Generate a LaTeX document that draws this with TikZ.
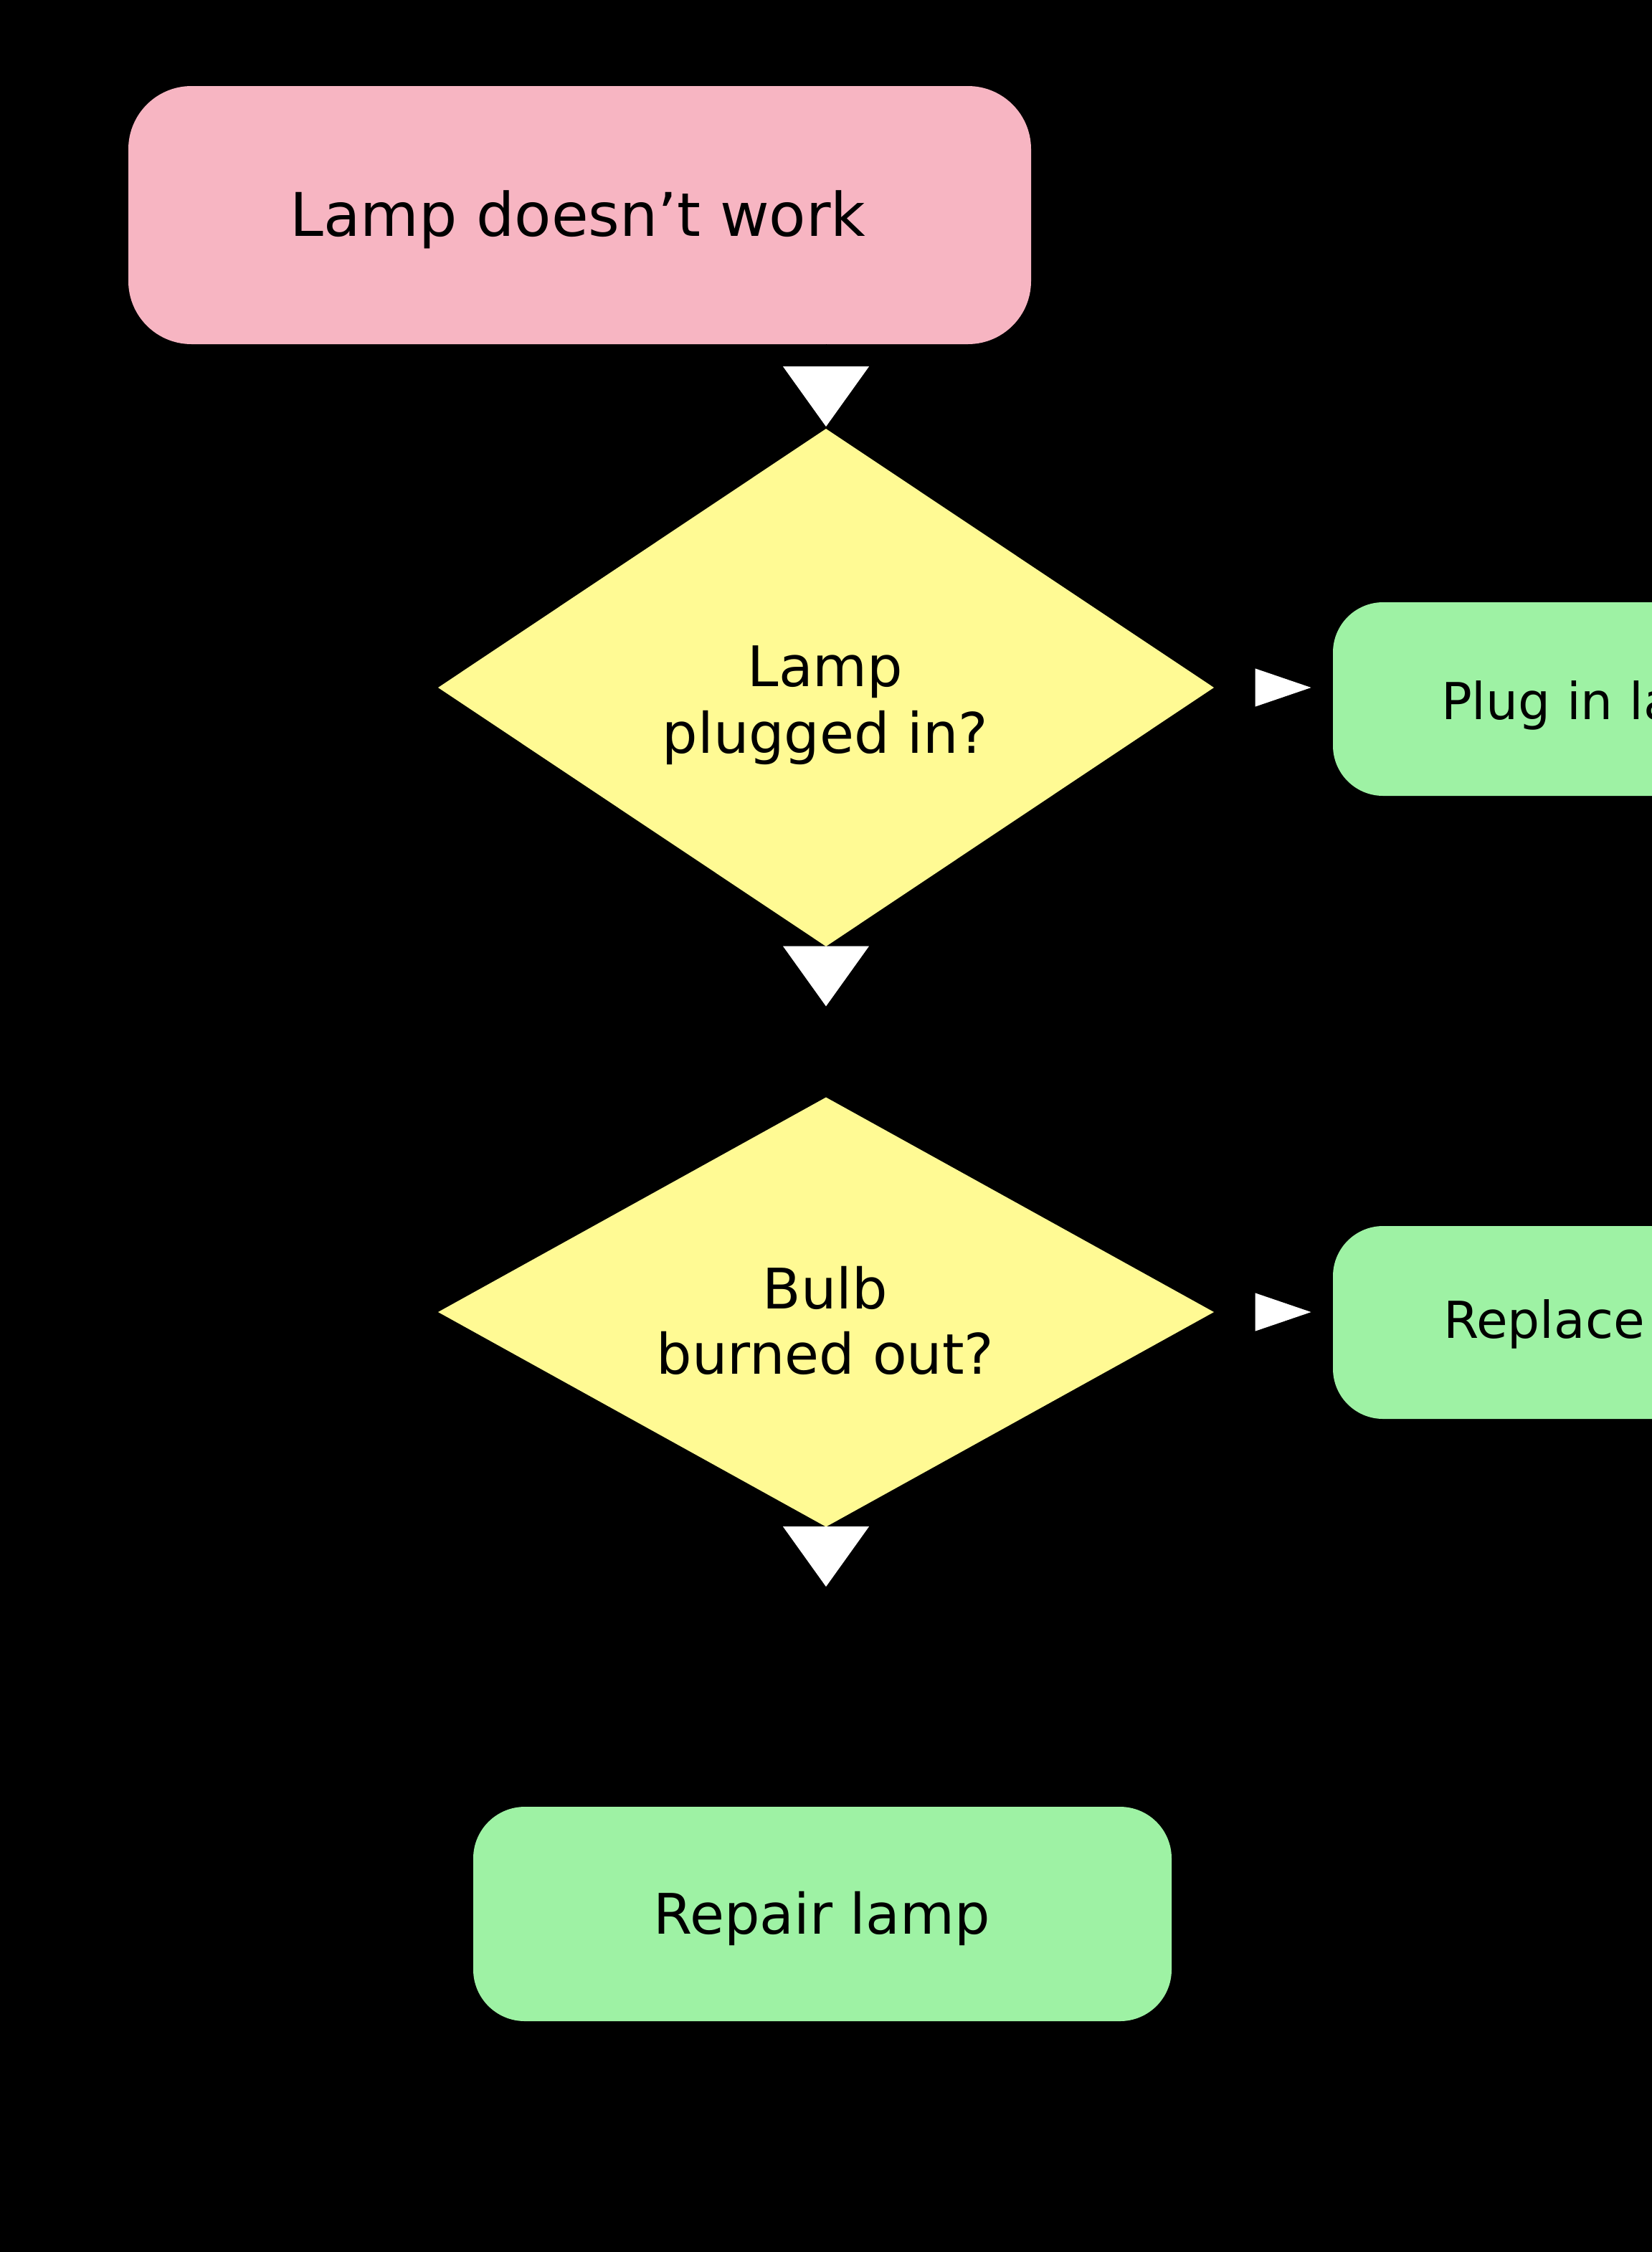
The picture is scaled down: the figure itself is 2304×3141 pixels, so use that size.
\documentclass[tikz,border=0pt]{standalone}
\usepackage{fontspec}
\setmainfont{DejaVu Sans}
\usetikzlibrary{shapes.geometric,arrows.meta}
\definecolor{pinkfill}{RGB}{247,181,194}
\definecolor{yellowfill}{RGB}{255,250,148}
\definecolor{greenfill}{RGB}{158,242,164}
\tikzset{
  box/.style={rectangle, inner sep=0pt, outer sep=0pt},
  decision/.style={diamond, fill=yellowfill, inner sep=0pt, outer sep=0pt},
  txt/.style={inner sep=0pt, outer sep=0pt, text=black, anchor=base},
  dtip/.style={draw=black, line width=1pt, -{Triangle[length=84pt,width=120pt,color=white]}},
  rtip/.style={draw=black, line width=1pt, -{Triangle[length=78pt,width=53pt,color=white]}},
}
\begin{document}
\begin{tikzpicture}[x=1pt,y=-1pt]
\useasboundingbox (0,0) rectangle (2304,3141);
\clip (0,0) rectangle (2304,3141);
\fill[black] (0,0) rectangle (2304,3141);

% shapes
\node[box, fill=pinkfill, rounded corners=88pt, minimum width=1259pt, minimum height=360pt] (start) at (808.5,300) {};
\node[decision, minimum width=1082pt, minimum height=722pt] (d1) at (1152,959) {};
\node[decision, minimum width=1082pt, minimum height=599pt] (d2) at (1152,1830) {};
\node[box, fill=greenfill, rounded corners=70pt, minimum width=760pt, minimum height=270pt] (plug) at (2239,975) {};
\node[box, fill=greenfill, rounded corners=70pt, minimum width=760pt, minimum height=269pt] (bulb) at (2239,1844.5) {};
\node[box, fill=greenfill, rounded corners=72pt, minimum width=974pt, minimum height=299pt] (repair) at (1147,2669.5) {};

% texts
\node[txt, font=\fontsize{84}{100}\selectfont] (tstart) at (806,329) {Lamp doesn’t work};
\node[txt, font=\fontsize{78}{92}\selectfont] (td1a) at (1151,957) {Lamp};
\node[txt, font=\fontsize{78}{92}\selectfont] (td1b) at (1151,1050) {plugged in?};
\node[txt, font=\fontsize{78}{92}\selectfont] (td2a) at (1151,1825) {Bulb};
\node[txt, font=\fontsize{78}{92}\selectfont] (td2b) at (1151,1916) {burned out?};
\node[txt, anchor=base west, font=\fontsize{71}{85}\selectfont] (tplug) at (2010,1003) {Plug in lamp};
\node[txt, anchor=base west, font=\fontsize{71}{85}\selectfont] (tbulb) at (2013,1866) {Replace bulb};
\node[txt, font=\fontsize{78}{92}\selectfont] (trepair) at (1146,2697) {Repair lamp};

% connectors
\draw[dtip, shorten >=3pt] (start.south -| d1.north) -- (d1.north);
\draw[dtip, shorten >=127pt] (d1.south) -- (d2.north);
\draw[dtip, shorten >=307pt] (d2.south) -- (d2.south |- repair.north);
\draw[rtip, shorten >=30.5pt] (d1.east) -- (d1.east -| plug.west);
\draw[rtip, shorten >=30.5pt] (d2.east) -- (d2.east -| bulb.west);
\end{tikzpicture}
\end{document}
